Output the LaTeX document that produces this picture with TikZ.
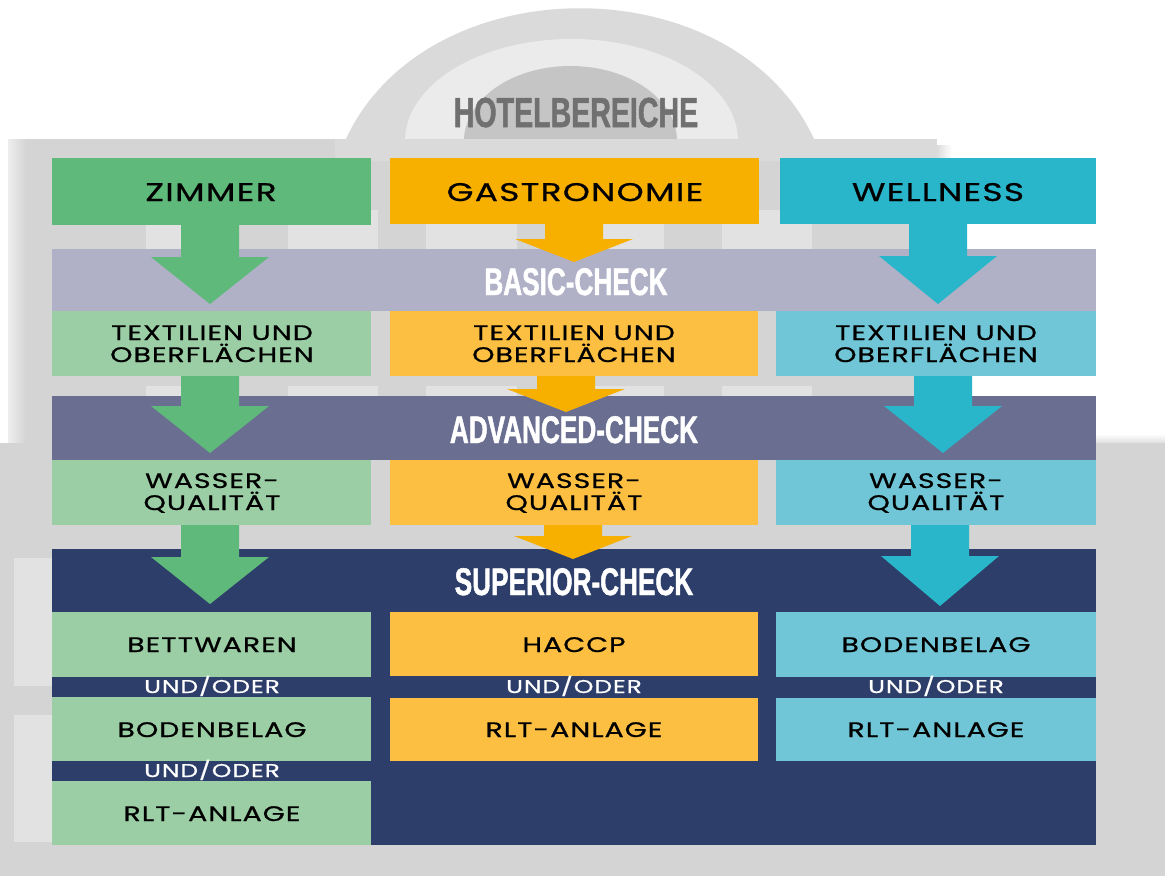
\documentclass[tikz,border=0pt]{standalone}
\usepackage{fontspec}
\usetikzlibrary{calc}
\newfontfamily\boxfont[FakeStretch=1.35,LetterSpace=5,FakeBold=0.8]{Poppins}
\newfontfamily\chkfont[FakeStretch=0.68,FakeBold=1.2]{Liberation Sans}
\definecolor{gH}{HTML}{5FB97B}
\definecolor{gL}{HTML}{9BCEA5}
\definecolor{oH}{HTML}{F8B000}
\definecolor{oL}{HTML}{FCBF42}
\definecolor{cH}{HTML}{29B6CB}
\definecolor{cL}{HTML}{70C6D6}
\definecolor{basicC}{HTML}{B0B0C6}
\definecolor{advC}{HTML}{6A6F91}
\definecolor{supC}{HTML}{2C3E69}
\definecolor{bgG}{HTML}{D3D4D3}
\definecolor{winG}{HTML}{E2E2E2}
\definecolor{archO}{HTML}{D9DAD9}
\definecolor{archM}{HTML}{EBEBEB}
\definecolor{archI}{HTML}{C4C5C4}
\definecolor{titleG}{HTML}{707070}
\definecolor{edgeL}{HTML}{EEEEEE}
\definecolor{shadowG}{HTML}{DCDCDC}
\tikzset{
  cell/.style={rectangle, inner sep=0pt, outer sep=0pt, draw=none, anchor=north west},
  hdrtxt/.style={anchor=base, inner sep=0pt, text=black, font=\boxfont\fontsize{25.5}{26}\selectfont},
  itemtxt/.style={anchor=base, inner sep=0pt, text=black, font=\boxfont\fontsize{21}{22}\selectfont},
  undtxt/.style={anchor=base, inner sep=0pt, text=white, font=\boxfont\fontsize{18.5}{19}\selectfont},
  chktxt/.style={anchor=base, inner sep=0pt, text=white, font=\chkfont\bfseries\fontsize{38.5}{40}\selectfont},
  titletxt/.style={anchor=base, inner sep=0pt, text=titleG, font=\chkfont\bfseries\fontsize{42}{44}\selectfont},
}
% #1 colour, #2 source node, #3 tip coordinate, #4 head height
\newcommand\flowarrow[4]{%
  \fill[#1] let \p1=(#2.south), \p2=(#3) in
    (\x2-29pt,\y1) -- (\x2+29pt,\y1) -- (\x2+29pt,\y2+#4) -- (\x2+59pt,\y2+#4)
    -- (\x2,\y2) -- (\x2-59pt,\y2+#4) -- (\x2-29pt,\y2+#4) -- cycle;}
\begin{document}
\begin{tikzpicture}[x=1pt,y=-1pt]
\useasboundingbox (0,0) rectangle (1165,876);
\fill[white] (0,0) rectangle (1165,876);
% arches
\fill[archO] (345,141) .. controls (425,-36) and (735,-36) .. (815,141) -- cycle;
\fill[archM] (571.5,141) ellipse [x radius=166.5, y radius=102];
\fill[archI] (570.5,141) ellipse [x radius=106.5, y radius=75];
% building
\shade[left color=shadowG, right color=white] (937,145) rectangle (952,300);
\fill[bgG] (8,139) rectangle (937,443);
\fill[archO] (335,139) rectangle (937,161);
\shade[left color=edgeL, right color=bgG] (8,139) rectangle (26,443);
\shade[top color=white, bottom color=bgG] (937,434) rectangle (1165,446);
\fill[bgG] (0,443) rectangle (1165,876);
% windows
\foreach \a/\b in {146/181, 288/378, 426/517, 603/664, 722/812}
  \fill[winG] (\a,210) rectangle (\b,249);
\foreach \a/\b in {146/181, 288/378, 426/517, 595/664, 722/812}
  \fill[winG] (\a,386) rectangle (\b,396);
\fill[winG] (14,558) rectangle (52,686);
\fill[winG] (14,715) rectangle (52,842);
% bands
\node[cell, fill=basicC, minimum width=1044pt, minimum height=62pt] (basic) at (52,249) {};
\node[cell, fill=advC, minimum width=1044pt, minimum height=64pt] (adv) at (52,396) {};
\node[cell, fill=supC, minimum width=1044pt, minimum height=296pt] (sup) at (52,549) {};
% headers
\node[cell, fill=gH, minimum width=319pt, minimum height=67pt] (hz) at (52,158) {};
\node[cell, fill=oH, minimum width=369pt, minimum height=66pt] (hg) at (390,158) {};
\node[cell, fill=cH, minimum width=316pt, minimum height=66pt] (hw) at (780,158) {};
% row 1
\node[cell, fill=gL, minimum width=319pt, minimum height=65pt] (z1) at (52,311) {};
\node[cell, fill=oL, minimum width=368pt, minimum height=65pt] (g1) at (390,311) {};
\node[cell, fill=cL, minimum width=320pt, minimum height=65pt] (w1) at (776,311) {};
% row 2
\node[cell, fill=gL, minimum width=319pt, minimum height=65pt] (z2) at (52,460) {};
\node[cell, fill=oL, minimum width=368pt, minimum height=65pt] (g2) at (390,460) {};
\node[cell, fill=cL, minimum width=320pt, minimum height=65pt] (w2) at (776,460) {};
% superior rows
\node[cell, fill=gL, minimum width=319pt, minimum height=65pt] (z3) at (52,612) {};
\node[cell, fill=gL, minimum width=319pt, minimum height=64pt] (z4) at (52,697) {};
\node[cell, fill=gL, minimum width=319pt, minimum height=64pt] (z5) at (52,781) {};
\node[cell, fill=oL, minimum width=368pt, minimum height=64pt] (g3) at (390,612) {};
\node[cell, fill=oL, minimum width=368pt, minimum height=63pt] (g4) at (390,698) {};
\node[cell, fill=cL, minimum width=320pt, minimum height=65pt] (w3) at (776,612) {};
\node[cell, fill=cL, minimum width=320pt, minimum height=63pt] (w4) at (776,698) {};
% arrow tips
\coordinate (tz1) at (210,304);
\coordinate (tz2) at (210,453);
\coordinate (tz3) at (210,604);
\coordinate (tg1) at (574,262);
\coordinate (tg2) at (566,412);
\coordinate (tg3) at (573,559);
\coordinate (tw1) at (938,304);
\coordinate (tw2) at (943,453);
\coordinate (tw3) at (940,606);
\flowarrow{gH}{hz}{tz1}{47pt}
\flowarrow{gH}{z1}{tz2}{47pt}
\flowarrow{gH}{z2}{tz3}{47pt}
\flowarrow{oH}{hg}{tg1}{23pt}
\flowarrow{oH}{g1}{tg2}{23pt}
\flowarrow{oH}{g2}{tg3}{23pt}
\flowarrow{cH}{hw}{tw1}{48pt}
\flowarrow{cH}{w1}{tw2}{47pt}
\flowarrow{cH}{w2}{tw3}{50pt}
% texts
\node[titletxt] (title) at (576,127) {HOTELBEREICHE};
\node[hdrtxt] (lz) at (211,201) {ZIMMER};
\node[hdrtxt] (lg) at (575,201) {GASTRONOMIE};
\node[hdrtxt] (lw) at (938,201) {WELLNESS};
\node[chktxt] (lb) at (576,295) {BASIC-CHECK};
\node[chktxt] (la) at (574,443) {ADVANCED-CHECK};
\node[chktxt] (ls) at (574,595) {SUPERIOR-CHECK};
\foreach \n/\x in {z/212, g/574, w/936}{
  \node[itemtxt] (t\n a) at (\x,340) {TEXTILIEN UND};
  \node[itemtxt] (t\n b) at (\x,362) {OBERFLÄCHEN};
  \node[itemtxt] (q\n a) at (\x,488) {WASSER-};
  \node[itemtxt] (q\n b) at (\x,510) {QUALITÄT};
  \node[undtxt] (u\n) at (\x,693) {UND/ODER};
}
\node[itemtxt] (bz) at (212,652) {BETTWAREN};
\node[itemtxt] (bg) at (574,652) {HACCP};
\node[itemtxt] (bw) at (936,652) {BODENBELAG};
\node[itemtxt] (cz) at (212,737) {BODENBELAG};
\node[itemtxt] (cg) at (574,737) {RLT-ANLAGE};
\node[itemtxt] (cw) at (936,737) {RLT-ANLAGE};
\node[undtxt] (uz2) at (212,777) {UND/ODER};
\node[itemtxt] (dz) at (212,821) {RLT-ANLAGE};
\end{tikzpicture}
\end{document}
